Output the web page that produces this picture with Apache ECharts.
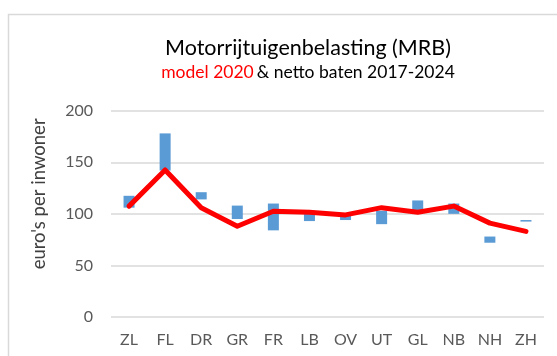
<!DOCTYPE html>
<html>
<head>
<meta charset="utf-8">
<script src="https://cdn.jsdelivr.net/npm/echarts@6/dist/echarts.min.js"></script>
<style>
  html, body { margin: 0; padding: 0; background: #fff; }
  #chart { width: 557px; height: 356px; }
</style>
</head>
<body>
<div id="chart"></div>
<script>
// Provinces
const categories = ['ZL', 'FL', 'DR', 'GR', 'FR', 'LB', 'OV', 'UT', 'GL', 'NB', 'NH', 'ZH'];
// Range of net proceeds 2017-2024 (euro per inhabitant)
const batenLow  = [106, 142, 114, 95, 84, 93, 94, 90, 102, 100, 72, 92.5];
const batenHigh = [117.5, 178, 121, 108, 110, 101, 98, 103, 113, 110, 78, 94];
// Model 2020 (euro per inhabitant)
const model2020 = [107.5, 142.5, 106, 88, 102.5, 101.5, 99, 106, 101.5, 107.5, 91, 83];
// Value axis ticks
const yTicks = [0, 50, 100, 150, 200];

const font = 'Lato, "Open Sans", sans-serif';
const chart = echarts.init(document.getElementById('chart'));

chart.setOption({
  animation: false,
  textStyle: { fontFamily: font },
  graphic: [
    {
      type: 'polyline',
      shape: { points: [[8.5, 356], [8.5, 14.5], [557, 14.5]] },
      style: { stroke: '#d9d9d9', lineWidth: 1.5, fill: null }
    }
  ],
  title: {
    text: 'Motorrijtuigenbelasting (MRB)',
    subtext: '{r|model 2020} {k|& netto baten 2017-2024}',
    left: 303,
    textAlign: 'center',
    top: 32,
    itemGap: 4,
    textStyle: { fontFamily: font, fontSize: 21.5, fontWeight: 'normal', color: '#000' },
    subtextStyle: {
      fontFamily: font,
      rich: {
        r: { fontFamily: font, fontSize: 17.5, color: '#ff0000' },
        k: { fontFamily: font, fontSize: 17.5, color: '#000' }
      }
    }
  },
  grid: { left: 111, right: 13, top: 110.7, bottom: 39 },
  xAxis: {
    type: 'category',
    data: categories,
    axisLine: { show: false },
    axisTick: { show: false },
    axisLabel: { color: '#595959', fontSize: 16, margin: 15, fontFamily: font }
  },
  yAxis: {
    type: 'value',
    min: yTicks[0],
    max: yTicks[yTicks.length - 1],
    interval: 50,
    name: "euro's per inwoner",
    nameLocation: 'middle',
    nameGap: 62,
    nameTextStyle: { color: '#404040', fontSize: 18.5, fontFamily: font, padding: [0, 0, 0, 40] },
    axisLine: { show: false },
    axisTick: { show: false },
    axisLabel: { color: '#595959', fontSize: 16, margin: 18, fontFamily: font },
    splitLine: { lineStyle: { color: '#d9d9d9', width: 1.5 } }
  },
  series: [
    {
      name: 'base',
      type: 'bar',
      stack: 'range',
      barWidth: 11,
      silent: true,
      itemStyle: { color: 'transparent' },
      data: batenLow
    },
    {
      name: 'netto baten 2017-2024',
      type: 'bar',
      stack: 'range',
      barWidth: 11,
      itemStyle: { color: '#5b9bd5' },
      data: batenHigh.map((h, i) => +(h - batenLow[i]).toFixed(2))
    },
    {
      name: 'model 2020',
      type: 'line',
      data: model2020,
      symbol: 'none',
      lineStyle: { color: '#ff0000', width: 5, cap: 'round', join: 'round' },
      z: 5
    }
  ]
});
</script>
</body>
</html>
